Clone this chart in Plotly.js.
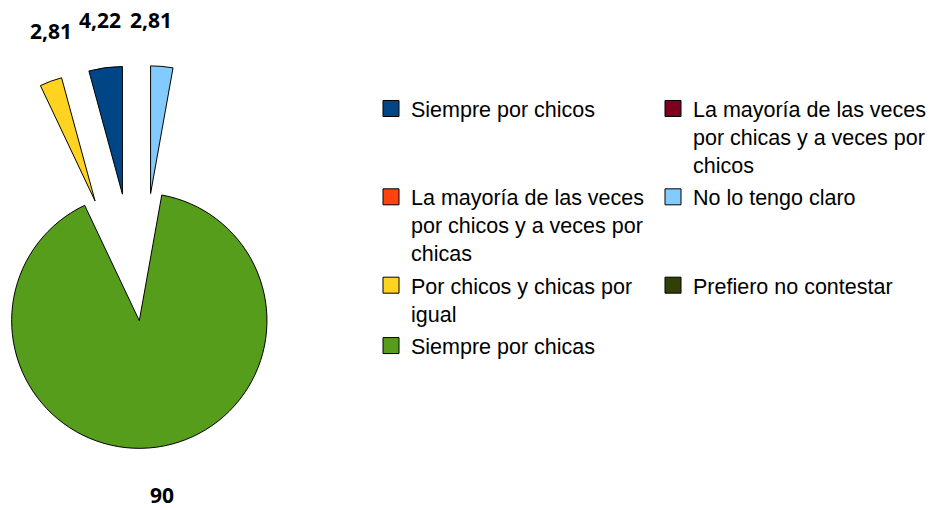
<!DOCTYPE html>
<html>
<head>
<meta charset="utf-8">
<script src="https://cdn.plot.ly/plotly-3.0.1.min.js"></script>
<style>
html, body { margin: 0; padding: 0; overflow: hidden; background: #fff; width: 939px; height: 510px; }
#chart { position: absolute; left: -116px; top: 0; width: 1055px; height: 576px; }
</style>
</head>
<body>
<div id="chart"></div>
<script>
// Categories in legend order
var categories = [
  "Siempre por chicos",
  "La mayoría de las veces por chicas y a veces por chicos",
  "La mayoría de las veces por chicos y a veces por chicas",
  "No lo tengo claro",
  "Por chicos y chicas por igual",
  "Prefiero no contestar",
  "Siempre por chicas"
];
var NB = "\u00A0";
// legend texts as wrapped in the picture (blank lines keep the two columns in step)
var legendLabels = [
  "Siempre por chicos<br>" + NB + "<br>" + NB,
  "La mayoría de las veces<br>por chicas y a veces por<br>chicos",
  "La mayoría de las veces<br>por chicos y a veces por<br>chicas",
  "No lo tengo claro<br>" + NB + "<br>" + NB,
  "Por chicos y chicas por<br>igual",
  "Prefiero no contestar<br>" + NB,
  "Siempre por chicas"
];
var values = [4.22, 0, 0, 2.81, 2.81, 0, 90];
var colors = ["#004586", "#7E0021", "#FF420E", "#83CAFF", "#FFD320", "#314004", "#579D1C"];
// order of slices going clockwise from 12 o'clock, as in the picture
var sliceOrder = [3, 6, 4, 0];
var pulls = {0: 1, 3: 1, 4: 1, 6: 0};
// where each value label sits (viewport pixels), per category index
var labelPos = {4: [51, 31], 0: [100, 20], 3: [151, 20], 6: [162, 495]};

var DIV_LEFT = -116, W = 1055, H = 576;
function px(vx) { return (vx - DIV_LEFT) / W; }
function py(vy) { return 1 - vy / H; }

var pieLabels = [], pieValues = [], pieColors = [], piePull = [];
sliceOrder.forEach(function (i) {
  if (values[i] > 0) {
    pieLabels.push(categories[i]);
    pieValues.push(values[i]);
    pieColors.push(colors[i]);
    piePull.push(pulls[i]);
  }
});

var traces = [{
  type: "pie",
  labels: pieLabels,
  values: pieValues,
  sort: false,
  direction: "clockwise",
  rotation: 0,
  pull: piePull,
  marker: { colors: pieColors, line: { color: "#000000", width: 1 } },
  textinfo: "none",
  showlegend: false,
  hoverinfo: "label+value",
  domain: { x: [0, 0.484], y: [0, 0.8865] }
}];

// legend entries: column 1 = items 0,2,4,6 ; column 2 = items 1,3,5
categories.forEach(function (c, i) {
  traces.push({
    type: "scatter",
    mode: "markers",
    x: [null], y: [null],
    name: legendLabels[i],
    legend: (i % 2 === 0) ? "legend" : "legend2",
    legendgroup: "g" + i,
    marker: { symbol: "square", size: 16, color: colors[i], line: { color: "#000000", width: 1 } },
    showlegend: true,
    hoverinfo: "skip"
  });
});

function fmt(v) { return String(v).replace(".", ","); }
var annotations = [];
sliceOrder.forEach(function (i) {
  if (values[i] > 0) {
    annotations.push({
      xref: "paper", yref: "paper",
      x: px(labelPos[i][0]), y: py(labelPos[i][1]),
      xanchor: "center", yanchor: "middle",
      text: fmt(values[i]),
      showarrow: false,
      font: { family: "Open Sans", size: 21, color: "#000000", weight: "bold" }
    });
  }
});

var legendCommon = {
  orientation: "v",
  xanchor: "left",
  yanchor: "top",
  valign: "top",
  traceorder: "grouped",
  tracegroupgap: 1.5,
  font: { family: "Liberation Sans", size: 21.5, color: "#000000" },
  bgcolor: "rgba(0,0,0,0)",
  borderwidth: 0,
  itemclick: false,
  itemdoubleclick: false
};

var layout = {
  width: W,
  height: H,
  margin: { l: 0, r: 0, t: 0, b: 0 },
  paper_bgcolor: "#ffffff",
  plot_bgcolor: "#ffffff",
  separators: ",.",
  xaxis: { visible: false },
  yaxis: { visible: false },
  showlegend: true,
  annotations: annotations,
  legend: Object.assign({}, legendCommon, { x: px(371), y: py(88) }),
  legend2: Object.assign({}, legendCommon, { x: px(653), y: py(88) })
};

Plotly.newPlot("chart", traces, layout, { displayModeBar: false, staticPlot: true });
</script>
</body>
</html>
